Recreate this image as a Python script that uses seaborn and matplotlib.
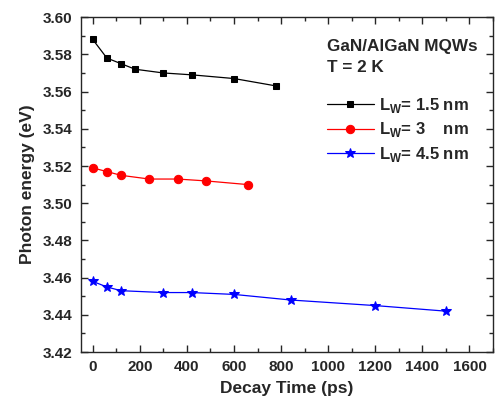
import pandas as pd
import matplotlib
matplotlib.use("Agg")
import matplotlib.pyplot as plt
from matplotlib.ticker import MultipleLocator, FormatStrFormatter
import seaborn as sns

# decay time (ps) and peak photon energy (eV) for each well width
t_15 = [0, 60, 120, 180, 300, 420, 600, 780]
e_15 = [3.588, 3.578, 3.575, 3.572, 3.570, 3.569, 3.567, 3.563]

t_3 = [0, 60, 120, 240, 360, 480, 660]
e_3 = [3.519, 3.517, 3.515, 3.513, 3.513, 3.512, 3.510]

t_45 = [0, 60, 120, 300, 420, 600, 840, 1200, 1500]
e_45 = [3.458, 3.455, 3.453, 3.452, 3.452, 3.451, 3.448, 3.445, 3.442]

labels = [r"L$_\mathregular{W}$= 1.5 nm", r"L$_\mathregular{W}$= 3    nm", r"L$_\mathregular{W}$= 4.5 nm"]
colors = ["black", "red", "blue"]
markers = ["s", "o", "*"]
msizes = [5, 6, 7.5]

sns.set_style("ticks")
plt.rcParams["font.family"] = ["Liberation Sans", "DejaVu Sans"]
plt.rcParams["font.weight"] = "bold"
plt.rcParams["mathtext.fontset"] = "custom"
plt.rcParams["mathtext.rm"] = "Liberation Sans:bold"
plt.rcParams["mathtext.bf"] = "Liberation Sans:bold"

fig = plt.figure(figsize=(4.95, 4.08), dpi=100)
ax = fig.add_axes([0.1636, 0.137, 0.8324, 0.821])

series = [(t_15, e_15), (t_3, e_3), (t_45, e_45)]
for (t, e), lab, c, m, ms in zip(series, labels, colors, markers, msizes):
    df = pd.DataFrame({"t": t, "e": e})
    sns.lineplot(data=df, x="t", y="e", ax=ax, color=c, marker=m, markersize=ms,
                 markeredgecolor=c, linewidth=0.9, label=lab)

ax.set_xticks(range(0, 1601, 200))
ax.xaxis.set_minor_locator(MultipleLocator(100))
ax.yaxis.set_major_locator(MultipleLocator(0.02))
ax.yaxis.set_minor_locator(MultipleLocator(0.01))
ax.yaxis.set_major_formatter(FormatStrFormatter("%.2f"))
ax.set_xlim(-50, 1700)
ax.set_ylim(3.42, 3.60)

ax.tick_params(which="both", direction="in", top=True, right=True, width=1,
               labelsize=11)
ax.tick_params(which="major", length=5, pad=6)
ax.tick_params(which="minor", length=3)
for s in ax.spines.values():
    s.set_linewidth(1)

ax.set_xlabel("Decay Time (ps)", fontsize=12.5, fontweight="bold", labelpad=5)
ax.set_ylabel("Photon energy (eV)", fontsize=12.5, fontweight="bold", labelpad=6)

ax.text(0.597, 0.913, "GaN/AlGaN MQWs", transform=ax.transAxes, fontsize=12.3,
        fontweight="bold", va="center", ha="left")
ax.text(0.597, 0.851, "T = 2 K", transform=ax.transAxes, fontsize=12.3,
        fontweight="bold", va="center", ha="left")

leg = ax.legend(loc="upper left", bbox_to_anchor=(0.597, 0.765), frameon=False,
                borderaxespad=0, borderpad=0, handlelength=2.8, handletextpad=0.35,
                labelspacing=0.33, prop={"size": 12, "weight": "bold"})

fig.savefig("out.png", dpi=100)
